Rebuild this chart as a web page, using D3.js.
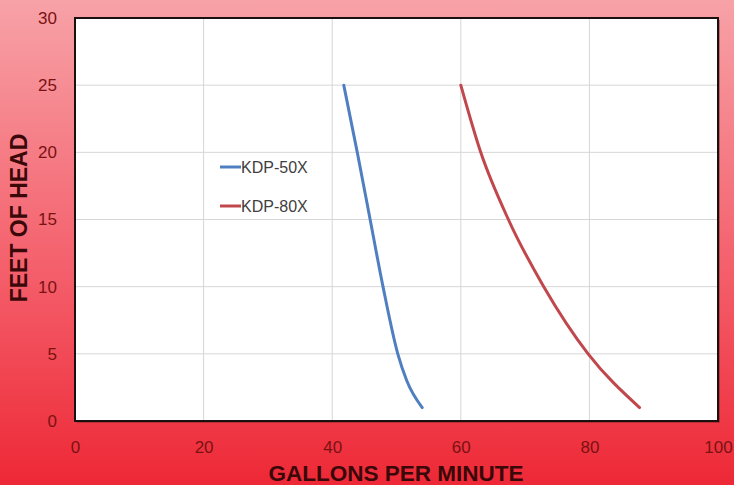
<!DOCTYPE html>
<html>
<head>
<meta charset="utf-8">
<script src="https://cdn.jsdelivr.net/npm/d3@7"></script>
<style>
  body { margin: 0; }
  svg { display: block; font-family: "Liberation Sans", Arial, sans-serif; }
</style>
</head>
<body>
<div id="chart"></div>
<script>
// pump curves
var kdp50_gpm  = [41.8, 43.9, 45.9, 47.9, 50.2, 51.6, 54.0];
var kdp50_head = [25, 20, 15, 10, 5, 3, 1];
var kdp80_gpm  = [60.0, 63.1, 67.4, 72.9, 79.8, 87.8];
var kdp80_head = [25, 20, 15, 10, 5, 1];
var series_names = ["KDP-50X", "KDP-80X"];
var series_colors = ["#4f7fc0", "#c0474c"];
var x_ticks = [0, 20, 40, 60, 80, 100];
var y_ticks = [0, 5, 10, 15, 20, 25, 30];

var W = 734, H = 485;
var margin = {left: 75, top: 18, right: 16, bottom: 64};

var svg = d3.select("#chart").append("svg")
  .attr("width", W).attr("height", H);

// background gradient
var grad = svg.append("defs").append("linearGradient")
  .attr("id", "bg").attr("x1", 0).attr("y1", 0).attr("x2", 0).attr("y2", 1);
grad.append("stop").attr("offset", "0%").attr("stop-color", "#f7a2a7");
grad.append("stop").attr("offset", "55%").attr("stop-color", "#f4606c");
grad.append("stop").attr("offset", "100%").attr("stop-color", "#ee2836");
svg.append("rect").attr("width", W).attr("height", H).attr("fill", "url(#bg)");

var x = d3.scaleLinear().domain([0, 100]).range([margin.left, W - margin.right]);
var y = d3.scaleLinear().domain([0, 30]).range([H - margin.bottom, margin.top]);

// plot area (with slight shadow)
svg.append("rect")
  .attr("x", x(0) + 2).attr("y", y(30) + 2)
  .attr("width", x(100) - x(0)).attr("height", y(0) - y(30))
  .attr("fill", "#5a1a1a").attr("opacity", 0.35);
svg.append("rect")
  .attr("x", x(0)).attr("y", y(30))
  .attr("width", x(100) - x(0)).attr("height", y(0) - y(30))
  .attr("fill", "white");

// grid
svg.append("g").selectAll("line.v").data(x_ticks).enter().append("line")
  .attr("x1", function(d){ return x(d); }).attr("x2", function(d){ return x(d); })
  .attr("y1", y(0)).attr("y2", y(30))
  .attr("stroke", "#d6d6d6").attr("stroke-width", 1);
svg.append("g").selectAll("line.h").data(y_ticks).enter().append("line")
  .attr("x1", x(0)).attr("x2", x(100))
  .attr("y1", function(d){ return y(d); }).attr("y2", function(d){ return y(d); })
  .attr("stroke", "#d6d6d6").attr("stroke-width", 1);

// border
svg.append("rect")
  .attr("x", x(0)).attr("y", y(30))
  .attr("width", x(100) - x(0)).attr("height", y(0) - y(30))
  .attr("fill", "none").attr("stroke", "#1a1010").attr("stroke-width", 2);

// axes (labels only)
var xAxis = svg.append("g")
  .attr("transform", "translate(0," + (y(0) + 17) + ")")
  .call(d3.axisBottom(x).tickValues(x_ticks).tickSize(0));
xAxis.select(".domain").remove();
xAxis.selectAll("text").attr("font-size", 17).attr("fill", "#7a1212")
  .attr("font-family", "Liberation Sans, Arial, sans-serif");

var yAxis = svg.append("g")
  .attr("transform", "translate(" + (x(0) - 15) + ",0)")
  .call(d3.axisLeft(y).tickValues(y_ticks).tickSize(0));
yAxis.select(".domain").remove();
yAxis.selectAll("text").attr("font-size", 17).attr("fill", "#7a1212")
  .attr("font-family", "Liberation Sans, Arial, sans-serif");

// axis titles
svg.append("text")
  .attr("x", 396).attr("y", 481)
  .attr("text-anchor", "middle")
  .attr("font-size", 22.5).attr("font-weight", "bold").attr("fill", "#3a0808")
  .text("GALLONS PER MINUTE");
svg.append("text")
  .attr("transform", "translate(27," + 218 + ") rotate(-90)")
  .attr("text-anchor", "middle")
  .attr("font-size", 23).attr("font-weight", "bold").attr("fill", "#3a0808")
  .text("FEET OF HEAD");

// curves (head is a function of gpm, so monotone in x keeps them smooth)
var line = d3.line()
  .x(function(d){ return x(d[0]); })
  .y(function(d){ return y(d[1]); })
  .curve(d3.curveMonotoneX);

var data = [d3.zip(kdp50_gpm, kdp50_head), d3.zip(kdp80_gpm, kdp80_head)];
svg.append("g").selectAll("path").data(data).enter().append("path")
  .attr("d", line)
  .attr("fill", "none")
  .attr("stroke", function(d, i){ return series_colors[i]; })
  .attr("stroke-width", 3)
  .attr("stroke-linecap", "round");

// legend
var legend = svg.append("g").selectAll("g").data(series_names).enter().append("g")
  .attr("transform", function(d, i){ return "translate(220," + (167 + i * 39) + ")"; });
legend.append("line")
  .attr("x1", 0).attr("x2", 21).attr("y1", 0).attr("y2", 0)
  .attr("stroke", function(d, i){ return series_colors[i]; })
  .attr("stroke-width", 3);
legend.append("text")
  .attr("x", 21).attr("y", 6)
  .attr("font-size", 16).attr("fill", "#404040")
  .text(function(d){ return d; });
</script>
</body>
</html>
